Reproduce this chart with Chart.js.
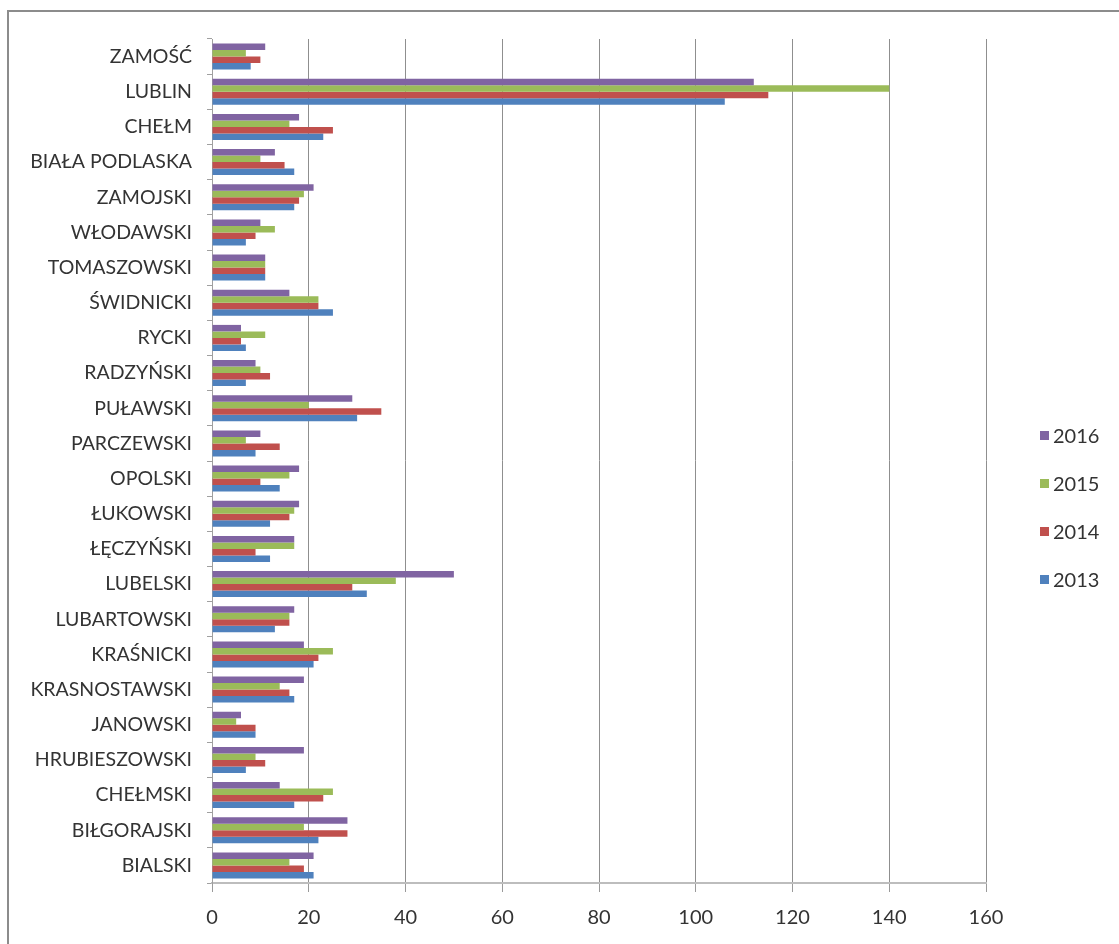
<!DOCTYPE html>
<html lang="pl">
<head>
<meta charset="utf-8">
<title>Powiaty i miasta województwa lubelskiego 2013–2016</title>
<script src="https://cdn.jsdelivr.net/npm/chart.js@4/dist/chart.umd.min.js"></script>
<style>
  html, body { margin: 0; padding: 0; background: #fff; }
  #wrap { position: relative; width: 1119px; height: 944px; overflow: hidden; }
  #frame { position: absolute; left: 7px; top: 10px; width: 1200px; height: 1000px;
           border-left: 2px solid #8c8c8c; border-top: 2px solid #8c8c8c; }
  #chart { position: absolute; left: 0; top: 0; }
  #legend { position: absolute; left: 1040px; top: 423px; font-family: Lato, "Open Sans", sans-serif;
            font-size: 20px; color: #333; }
  .item { height: 48px; display: flex; align-items: flex-start; }
  .sw { width: 9px; height: 9px; margin-top: 8px; margin-right: 4px; }
</style>
</head>
<body>
<div id="wrap">
  <div id="frame"></div>
  <canvas id="chart" width="1119" height="944"></canvas>
  <div id="legend"></div>
</div>
<script>
// Districts and cities, listed top to bottom as drawn
const categories = ['ZAMOŚĆ','LUBLIN','CHEŁM','BIAŁA PODLASKA','ZAMOJSKI','WŁODAWSKI','TOMASZOWSKI',
  'ŚWIDNICKI','RYCKI','RADZYŃSKI','PUŁAWSKI','PARCZEWSKI','OPOLSKI','ŁUKOWSKI','ŁĘCZYŃSKI',
  'LUBELSKI','LUBARTOWSKI','KRAŚNICKI','KRASNOSTAWSKI','JANOWSKI','HRUBIESZOWSKI','CHEŁMSKI',
  'BIŁGORAJSKI','BIALSKI'];

const values2016 = [11,112,18,13,21,10,11,16,6,9,29,10,18,18,17,50,17,19,19,6,19,14,28,21];
const values2015 = [7,140,16,10,19,13,11,22,11,10,20,7,16,17,17,38,16,25,14,5,9,25,19,16];
const values2014 = [10,115,25,15,18,9,11,22,6,12,35,14,10,16,9,29,16,22,16,9,11,23,28,19];
const values2013 = [8,106,23,17,17,7,11,25,7,7,30,9,14,12,12,32,13,21,17,9,7,17,22,21];

const seriesNames = ['2016','2015','2014','2013'];
const seriesValues = [values2016, values2015, values2014, values2013];
const seriesColors = ['#8064A2','#9BBB59','#C0504D','#4F81BD'];

const xTicks = [0,20,40,60,80,100,120,140,160];

const FONT = 'Lato, "Open Sans", sans-serif';
const TEXT = '#333333';

const datasets = seriesNames.map((name, i) => ({
  label: name,
  data: seriesValues[i],
  backgroundColor: seriesColors[i],
  borderWidth: 0,
  categoryPercentage: 0.74,
  barPercentage: 1.0
}));

new Chart(document.getElementById('chart'), {
  type: 'bar',
  data: { labels: categories, datasets },
  options: {
    indexAxis: 'y',
    responsive: false,
    animation: false,
    layout: { padding: { left: 0, top: 39, right: 133, bottom: 0 } },
    plugins: { legend: { display: false }, tooltip: { enabled: false } },
    scales: {
      x: {
        min: xTicks[0],
        max: xTicks[xTicks.length - 1],
        afterBuildTicks: s => { s.ticks = xTicks.map(v => ({ value: v })); },
        afterFit: s => { s.height = 61; },
        grid: { color: '#8f8f8f', lineWidth: 1, drawTicks: true, tickLength: 9, tickColor: '#9a9a9a' },
        border: { color: '#bdbdbd', width: 2 },
        ticks: { color: TEXT, font: { family: FONT, size: 20 }, padding: 14, maxRotation: 0 }
      },
      y: {
        afterFit: s => { s.width = 212; },
        grid: { drawOnChartArea: false, drawTicks: true, tickLength: 5, color: '#a0a0a0', offset: true },
        border: { color: '#a0a0a0', width: 1 },
        ticks: { color: TEXT, font: { family: FONT, size: 19.5 }, padding: 15, autoSkip: false }
      }
    }
  }
});

// Legend, built from the series names and colours
const legend = document.getElementById('legend');
seriesNames.forEach((name, i) => {
  const row = document.createElement('div');
  row.className = 'item';
  const sw = document.createElement('span');
  sw.className = 'sw';
  sw.style.background = seriesColors[i];
  const tx = document.createElement('span');
  tx.textContent = name;
  row.appendChild(sw);
  row.appendChild(tx);
  legend.appendChild(row);
});
</script>
</body>
</html>
